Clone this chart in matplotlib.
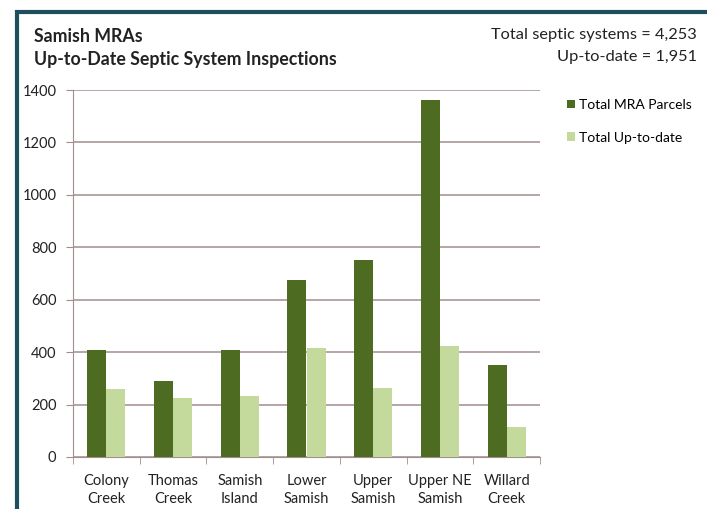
import matplotlib.pyplot as plt
import numpy as np
from matplotlib.patches import Rectangle

plt.rcParams['font.family'] = ['Lato', 'DejaVu Sans']

areas = ['Colony\nCreek', 'Thomas\nCreek', 'Samish\nIsland', 'Lower\nSamish',
         'Upper\nSamish', 'Upper NE\nSamish', 'Willard\nCreek']
total_parcels = [410, 290, 410, 675, 752, 1362, 350]
total_uptodate = [260, 225, 233, 416, 263, 424, 115]

dark = '#4e6b22'
light = '#c3da9c'
grid_col = '#a38d8d'

fig = plt.figure(figsize=(7.07, 5.09), dpi=100)
ax = fig.add_axes([73/707, 1 - 457/509, 467/707, 367/509])

x = np.arange(len(areas))
w = 0.285
ax.bar(x - w/2, total_parcels, w, color=dark, label='Total MRA Parcels', zorder=3)
ax.bar(x + w/2, total_uptodate, w, color=light, label='Total Up-to-date', zorder=3)

ax.set_xlim(-0.5, len(areas) - 0.5)
ax.set_ylim(0, 1400)
ax.set_yticks(range(0, 1401, 200))
ax.yaxis.grid(True, color=grid_col, linewidth=1.1, zorder=0)
ax.set_xticks(x)
ax.set_xticklabels(areas, fontsize=10.5, color='#222222', linespacing=1.4)
ax.set_xticks(np.arange(-0.5, len(areas)), minor=True)
ax.tick_params(axis='x', which='major', length=0, pad=12)
ax.tick_params(axis='x', which='minor', length=5, color=grid_col)
ax.tick_params(axis='y', length=5, color=grid_col, labelsize=10.5, labelcolor='#222222', pad=7)
for s in ['top', 'right']:
    ax.spines[s].set_visible(False)
ax.spines['left'].set_color(grid_col)
ax.spines['bottom'].set_color(grid_col)

ax.legend(loc='upper left', bbox_to_anchor=(1.03, 1.01), frameon=False, fontsize=10,
          handlelength=0.6, handleheight=0.6, handletextpad=0.3, labelspacing=1.5)

fig.text(34/707, 1 - 36/509, 'Samish MRAs', fontsize=12.8, fontweight='bold',
         color='#222222', va='center')
fig.text(34/707, 1 - 59/509, 'Up-to-Date Septic System Inspections', fontsize=12.8,
         fontweight='bold', color='#222222', va='center')
fig.text(697/707, 1 - 35/509, 'Total septic systems = 4,253', fontsize=11.8,
         color='#222222', va='center', ha='right')
fig.text(697/707, 1 - 57/509, 'Up-to-date = 1,951', fontsize=11.8,
         color='#222222', va='center', ha='right')

fig.patches.append(Rectangle((17/707, -0.1), 1.2, 1 - 12/509 + 0.1, transform=fig.transFigure,
                             fill=False, edgecolor='#1d4f5c', linewidth=3, zorder=10))

fig.savefig('out.png', dpi=100)
